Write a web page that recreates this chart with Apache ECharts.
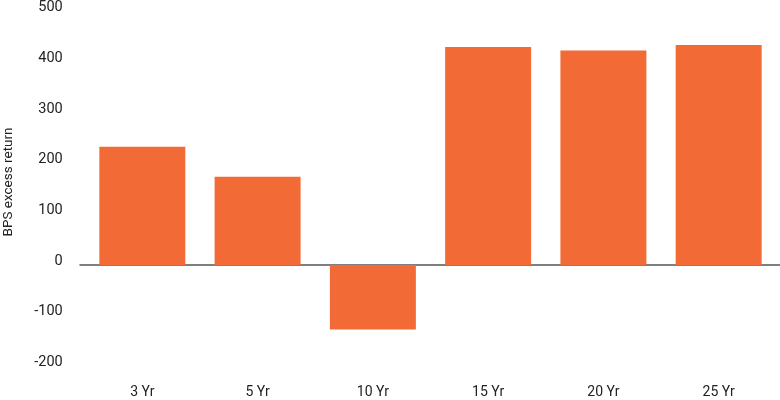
<!DOCTYPE html>
<html>
<head>
<meta charset="utf-8">
<script src="https://cdn.jsdelivr.net/npm/echarts@6/dist/echarts.min.js"></script>
<style>
  html, body { margin: 0; padding: 0; background: #fff; }
  #chart { width: 780px; height: 400px; }
</style>
</head>
<body>
<div id="chart"></div>
<script>
// 数据
const categories = ['3 Yr', '5 Yr', '10 Yr', '15 Yr', '20 Yr', '25 Yr']
const excessReturn = [233, 174, -127, 430, 423, 434]
const yTicks = [-200, -100, 0, 100, 200, 300, 400, 500]

const yMin = yTicks[0]
const yMax = yTicks[yTicks.length - 1]
const textColor = '#222'
const fontFamily = 'Roboto, "Liberation Sans", sans-serif'

const chart = echarts.init(document.getElementById('chart'))

chart.setOption({
  animation: false,
  grid: [
    { left: 84.7, right: 3.7, top: 11.5, bottom: 33.6, outerBoundsMode: 'none', containLabel: false },
    // 零线用的第二个网格，横跨整个宽度
    { left: 80, right: 0, top: 11.5, bottom: 33.6, outerBoundsMode: 'none', containLabel: false }
  ],
  xAxis: [
    {
      type: 'category',
      gridIndex: 0,
      data: categories,
      axisLine: { show: false },
      axisTick: { show: false },
      axisLabel: {
        color: textColor,
        fontSize: 14,
        fontFamily: fontFamily,
        margin: 19
      }
    },
    {
      type: 'value',
      gridIndex: 1,
      min: 0,
      max: 1,
      axisLine: { show: true, onZero: true, lineStyle: { color: '#555', width: 1.5 } },
      axisTick: { show: false },
      axisLabel: { show: false },
      splitLine: { show: false }
    }
  ],
  yAxis: [
    {
      type: 'value',
      gridIndex: 0,
      min: yMin,
      max: yMax,
      interval: 100,
      name: 'BPS excess return',
      nameLocation: 'middle',
      nameGap: 69,
      nameTextStyle: {
        color: textColor,
        fontSize: 13.5,
        fontFamily: fontFamily,
        padding: [0, 0, 0, 14]
      },
      axisLine: { show: false },
      axisTick: { show: false },
      splitLine: { show: false },
      axisLabel: {
        color: textColor,
        fontSize: 14.5,
        fontFamily: fontFamily,
        margin: 22,
        verticalAlign: 'bottom',
        lineHeight: 8
      }
    },
    {
      type: 'value',
      gridIndex: 1,
      min: yMin,
      max: yMax,
      show: false
    }
  ],
  series: [
    {
      type: 'bar',
      xAxisIndex: 0,
      yAxisIndex: 0,
      data: excessReturn,
      barWidth: '74.6%',
      itemStyle: { color: '#F26B36' },
      z: 1
    }
  ]
})
</script>
</body>
</html>
